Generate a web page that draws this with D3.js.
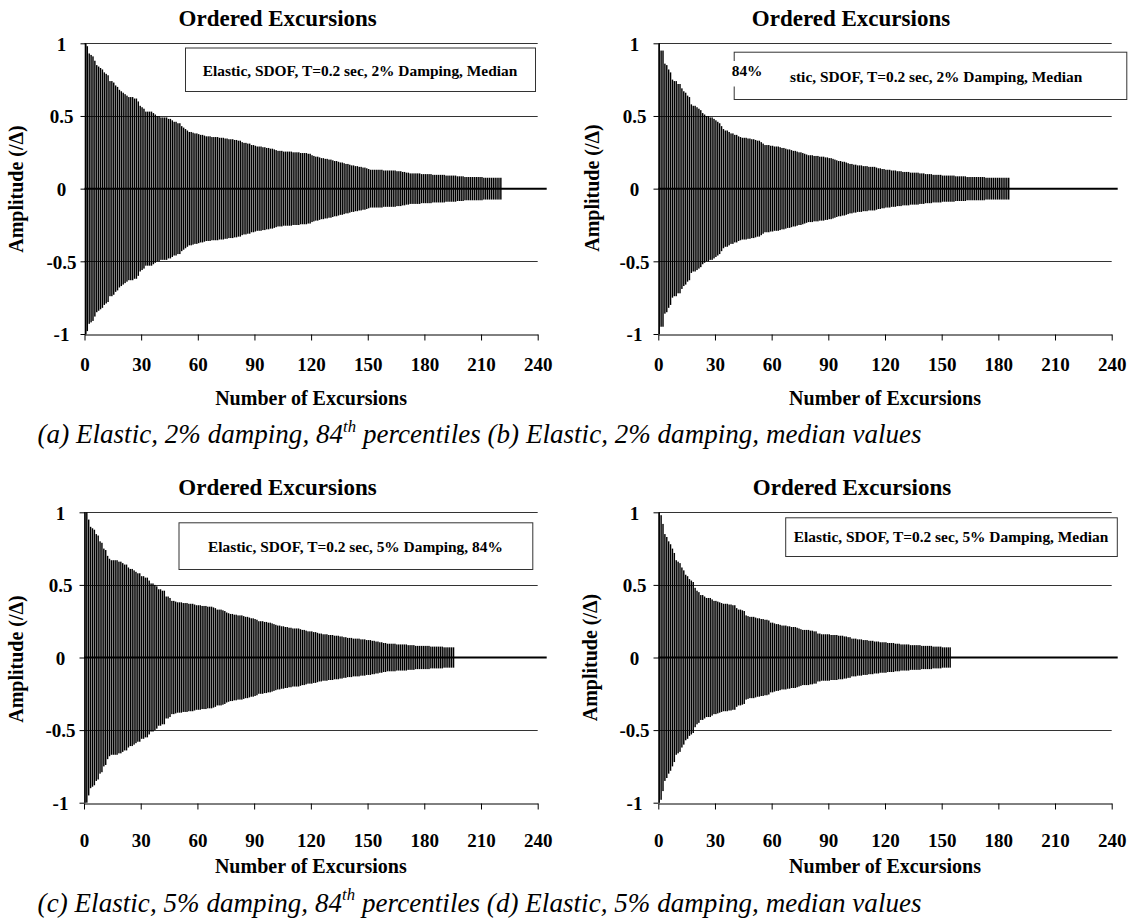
<!DOCTYPE html>
<html><head><meta charset="utf-8">
<script src="https://cdn.jsdelivr.net/npm/d3@7"></script>
<style>body{margin:0;background:#fff}svg{display:block}</style>
</head><body>
<svg id="c" width="1133" height="924"></svg>
<script>
// ---------- data ----------
const ampA = [
1.00,0.98,0.93,0.92,0.91,0.88,0.85,0.84,0.83,0.82,
0.80,0.79,0.78,0.74,0.74,0.73,0.71,0.70,0.68,0.67,
0.66,0.65,0.64,0.63,0.63,0.63,0.62,0.62,0.60,0.57,
0.56,0.55,0.53,0.53,0.53,0.53,0.52,0.51,0.50,0.50,
0.49,0.49,0.49,0.49,0.48,0.48,0.47,0.46,0.46,0.45,
0.45,0.43,0.42,0.41,0.40,0.39,0.39,0.385,0.38,0.38,
0.375,0.37,0.37,0.365,0.36,0.36,0.36,0.355,0.355,0.355,
0.355,0.35,0.35,0.35,0.345,0.345,0.34,0.34,0.34,0.335,
0.335,0.33,0.33,0.32,0.315,0.315,0.31,0.31,0.30,0.30,
0.295,0.29,0.29,0.29,0.285,0.285,0.28,0.28,0.275,0.275,
0.27,0.265,0.26,0.26,0.26,0.255,0.255,0.255,0.255,0.255,
0.25,0.25,0.25,0.25,0.245,0.245,0.245,0.245,0.24,0.24,
0.23,0.225,0.22,0.22,0.215,0.21,0.21,0.205,0.205,0.20,
0.20,0.195,0.19,0.19,0.185,0.18,0.18,0.175,0.17,0.17,
0.165,0.16,0.16,0.155,0.155,0.15,0.15,0.145,0.145,0.14,
0.135,0.13,0.13,0.13,0.13,0.13,0.13,0.13,0.125,0.125,
0.125,0.125,0.125,0.125,0.125,0.12,0.12,0.12,0.115,0.115,
0.11,0.11,0.105,0.105,0.105,0.105,0.105,0.105,0.10,0.10,
0.10,0.10,0.10,0.10,0.095,0.095,0.095,0.095,0.095,0.095,
0.095,0.09,0.09,0.09,0.09,0.09,0.09,0.085,0.085,0.085,
0.085,0.08,0.08,0.08,0.08,0.08,0.08,0.08,0.08,0.08,
0.08,0.075,0.075,0.075,0.075,0.075,0.075,0.075,0.075,0.075,
0.075];
const ampB = [
1.00,0.95,0.95,0.86,0.85,0.82,0.80,0.75,0.74,0.74,
0.72,0.72,0.69,0.67,0.66,0.64,0.63,0.58,0.57,0.57,
0.56,0.55,0.54,0.52,0.51,0.50,0.50,0.49,0.49,0.48,
0.47,0.46,0.45,0.43,0.41,0.40,0.40,0.39,0.38,0.38,
0.37,0.37,0.36,0.355,0.35,0.35,0.35,0.345,0.345,0.34,
0.34,0.335,0.33,0.33,0.32,0.31,0.30,0.30,0.30,0.295,
0.295,0.29,0.29,0.29,0.285,0.28,0.28,0.275,0.27,0.27,
0.265,0.26,0.26,0.255,0.25,0.25,0.245,0.24,0.235,0.23,
0.23,0.23,0.225,0.225,0.225,0.22,0.22,0.22,0.215,0.215,
0.21,0.21,0.205,0.20,0.195,0.19,0.19,0.185,0.185,0.18,
0.175,0.17,0.17,0.165,0.165,0.16,0.16,0.16,0.155,0.155,
0.155,0.15,0.15,0.15,0.15,0.145,0.14,0.14,0.135,0.135,
0.13,0.13,0.13,0.125,0.125,0.125,0.12,0.12,0.12,0.115,
0.115,0.115,0.115,0.11,0.11,0.11,0.11,0.11,0.105,0.105,
0.105,0.10,0.10,0.10,0.10,0.095,0.095,0.095,0.095,0.095,
0.09,0.09,0.09,0.09,0.09,0.09,0.09,0.085,0.085,0.085,
0.085,0.085,0.085,0.08,0.08,0.08,0.08,0.08,0.08,0.08,
0.08,0.08,0.08,0.075,0.075,0.075,0.075,0.075,0.075,0.075,
0.075,0.075,0.075,0.075,0.075,0.075];
const ampC = [
1.00,1.00,0.95,0.90,0.89,0.88,0.85,0.84,0.80,0.79,
0.75,0.74,0.70,0.68,0.67,0.67,0.67,0.67,0.66,0.66,
0.65,0.64,0.64,0.62,0.61,0.61,0.60,0.59,0.58,0.58,
0.56,0.56,0.55,0.55,0.53,0.51,0.51,0.50,0.49,0.47,
0.47,0.46,0.46,0.42,0.42,0.41,0.39,0.39,0.385,0.38,
0.38,0.38,0.375,0.375,0.375,0.37,0.37,0.37,0.365,0.36,
0.36,0.36,0.355,0.355,0.355,0.35,0.35,0.35,0.345,0.34,
0.33,0.33,0.33,0.325,0.32,0.31,0.305,0.30,0.30,0.295,
0.295,0.29,0.29,0.29,0.285,0.28,0.28,0.275,0.27,0.27,
0.265,0.26,0.25,0.25,0.25,0.245,0.245,0.24,0.24,0.235,
0.23,0.225,0.22,0.22,0.215,0.215,0.21,0.21,0.205,0.205,
0.20,0.20,0.20,0.20,0.195,0.19,0.19,0.185,0.18,0.18,
0.18,0.175,0.175,0.17,0.165,0.165,0.16,0.16,0.16,0.155,
0.155,0.155,0.15,0.15,0.15,0.145,0.145,0.14,0.14,0.135,
0.135,0.135,0.13,0.13,0.13,0.13,0.125,0.125,0.125,0.12,
0.12,0.12,0.115,0.115,0.11,0.11,0.105,0.105,0.10,0.10,
0.095,0.095,0.095,0.095,0.095,0.09,0.09,0.09,0.09,0.09,
0.09,0.085,0.085,0.085,0.085,0.08,0.08,0.08,0.08,0.08,
0.08,0.08,0.08,0.075,0.075,0.075,0.075,0.075,0.075,0.075,
0.07,0.07,0.07,0.07,0.07,0.07];
const ampD = [
1.00,0.98,0.92,0.85,0.83,0.80,0.78,0.75,0.72,0.67,
0.66,0.65,0.62,0.60,0.57,0.56,0.54,0.53,0.52,0.48,
0.46,0.45,0.43,0.43,0.42,0.41,0.41,0.41,0.40,0.39,
0.39,0.385,0.38,0.375,0.37,0.37,0.37,0.365,0.365,0.36,
0.36,0.34,0.33,0.33,0.325,0.32,0.29,0.285,0.28,0.28,
0.28,0.275,0.27,0.27,0.265,0.265,0.26,0.26,0.255,0.24,
0.24,0.235,0.23,0.23,0.225,0.22,0.22,0.22,0.215,0.215,
0.21,0.21,0.21,0.205,0.20,0.195,0.19,0.19,0.19,0.19,
0.185,0.185,0.18,0.18,0.165,0.165,0.16,0.16,0.16,0.16,
0.16,0.155,0.155,0.155,0.155,0.15,0.15,0.15,0.145,0.145,
0.14,0.14,0.13,0.13,0.13,0.125,0.125,0.125,0.12,0.12,
0.12,0.115,0.115,0.115,0.11,0.11,0.11,0.105,0.105,0.105,
0.105,0.10,0.10,0.10,0.10,0.095,0.095,0.095,0.09,0.09,
0.09,0.09,0.09,0.085,0.085,0.085,0.085,0.085,0.085,0.08,
0.08,0.08,0.08,0.08,0.08,0.075,0.075,0.075,0.075,0.075,
0.07,0.07,0.07,0.07,0.07];

const xTicks = [0, 30, 60, 90, 120, 150, 180, 210, 240];
const yTicks = [-1, -0.5, 0, 0.5, 1];
const yTickLabels = ["-1", "-0.5", "0", "0.5", "1"];
const gridValues = [1, 0.5, -0.5];
const chartTitle = "Ordered Excursions";
const xAxisTitle = "Number of Excursions";
const yAxisTitle = "Amplitude (/\u0394)";
const legendTexts = [
  "Elastic, SDOF, T=0.2 sec, 2% Damping, Median",
  "Elastic, SDOF, T=0.2 sec, 2% Damping, Median",
  "Elastic, SDOF, T=0.2 sec, 5% Damping, 84%",
  "Elastic, SDOF, T=0.2 sec, 5% Damping, Median"
];
const overlayLabel = "84%";
const captionParts = [
  ["(a) Elastic, 2% damping, 84", "th", " percentiles (b) Elastic, 2% damping, median values"],
  ["(c) Elastic, 5% damping, 84", "th", " percentiles (d) Elastic, 5% damping, median values"]
];
const seriesList = [ampA, ampB, ampC, ampD];

// ---------- layout ----------
const FONT = "'Liberation Serif','Times New Roman',Times,serif";
const LEGEND_SIZE = 15.4;
const layout = [
  {x0:84.5, x1:537.7, yTop:43.3, yBot:334, titleX:277.7, titleBase:25.5, tickBase:371, xTitleBase:404.5, yTitleX:23, yTitleY:189, box:[185,47.5,535,91], legendX:360, legendBase:75.5, zeroExt:9},
  {x0:658.3, x1:1111.7, yTop:43.3, yBot:334, titleX:851, titleBase:25.5, tickBase:371, xTitleBase:404.5, yTitleX:598.5, yTitleY:188, box:[733.7,51.7,1126.3,99], legendX:925, legendBase:81.5, zeroExt:6,
   cover:[727,61,25.5], coverTextX:731.7, coverTextBase:75.5, coverUntilChar:3},
  {x0:84, x1:537.7, yTop:512.3, yBot:802.7, titleX:277.5, titleBase:494.5, tickBase:846.5, xTitleBase:873, yTitleX:23, yTitleY:659, box:[178.5,522.3,532.3,569], legendX:355.4, legendBase:552, zeroExt:9},
  {x0:658.3, x1:1111.7, yTop:512.3, yBot:802.7, titleX:852, titleBase:494.5, tickBase:846.5, xTitleBase:873, yTitleX:597, yTitleY:657.5, box:[785.2,517.3,1116.8,556], legendX:951, legendBase:542, zeroExt:6}
];
const captionLayout = {x:37.6, width:884, base:[443, 911.5], size:27};

const svg = d3.select("#c");
svg.append("rect").attr("width",1133).attr("height",924).attr("fill","#fff");

seriesList.forEach((data, k) => {
  const L = layout[k];
  const g = svg.append("g");
  const x = d3.scaleLinear().domain([0,240]).range([L.x0, L.x1]);
  const y = d3.scaleLinear().domain([-1,1]).range([L.yBot, L.yTop]);
  const step = x(1) - x(0);

  // gridlines
  g.selectAll("line.grid").data(gridValues).join("line")
    .attr("x1", L.x0).attr("x2", L.x1)
    .attr("y1", d => Math.round(y(d)) + 0.5).attr("y2", d => Math.round(y(d)) + 0.5)
    .attr("stroke", "#333").attr("stroke-width", 1);

  // bars (symmetric excursions)
  g.selectAll("rect.bar").data(data).join("rect")
    .attr("x", (d, i) => x(i) + 0.2)
    .attr("width", step - 0.45)
    .attr("y", d => y(d))
    .attr("height", d => y(-d) - y(d))
    .attr("fill", "#000");

  // zero line
  g.append("line").attr("x1", L.x0).attr("x2", L.x1 + L.zeroExt)
    .attr("y1", y(0)).attr("y2", y(0)).attr("stroke", "#000").attr("stroke-width", 2);

  // x axis
  const xa = g.append("g").attr("transform", `translate(0,${Math.round(L.yBot)+0.5})`)
    .call(d3.axisBottom(x).tickValues(xTicks).tickSize(6).tickSizeOuter(0).tickFormat(d3.format("d")));
  xa.select(".domain").attr("stroke", "#000");
  xa.selectAll(".tick line").attr("stroke", "#000");
  xa.selectAll(".tick text").attr("dy", null).attr("y", L.tickBase - Math.round(L.yBot) - 0.5)
    .attr("font-family", FONT).attr("font-weight", "bold").attr("font-size", 19).attr("fill", "#000");

  // y axis
  const ya = g.append("g").attr("transform", `translate(${Math.round(L.x0)+0.5},0)`)
    .call(d3.axisLeft(y).tickValues(yTicks).tickSize(5).tickSizeOuter(0)
      .tickFormat(d => yTickLabels[yTicks.indexOf(d)]));
  ya.select(".domain").attr("stroke", "#000");
  ya.selectAll(".tick line").attr("stroke", "#000");
  ya.selectAll(".tick text").attr("x", -24).attr("text-anchor", "middle").attr("dy", "0.36em")
    .attr("font-family", FONT).attr("font-weight", "bold").attr("font-size", 19).attr("fill", "#000");

  // titles
  g.append("text").attr("x", L.titleX).attr("y", L.titleBase).attr("text-anchor", "middle")
    .attr("font-family", FONT).attr("font-weight", "bold").attr("font-size", 23).text(chartTitle);
  g.append("text").attr("x", (L.x0 + L.x1) / 2).attr("y", L.xTitleBase).attr("text-anchor", "middle")
    .attr("font-family", FONT).attr("font-weight", "bold").attr("font-size", 20).text(xAxisTitle);
  g.append("text").attr("transform", `translate(${L.yTitleX},${L.yTitleY}) rotate(-90)`).attr("text-anchor", "middle")
    .attr("font-family", FONT).attr("font-weight", "bold").attr("font-size", 20).text(yAxisTitle);

  // legend box
  const b = L.box;
  g.append("rect").attr("x", b[0] + 0.5).attr("y", b[1] + 0.5).attr("width", b[2] - b[0]).attr("height", b[3] - b[1])
    .attr("fill", "#fff").attr("stroke", "#333").attr("stroke-width", 1);
  const lt = g.append("text").attr("x", L.legendX).attr("y", L.legendBase).attr("text-anchor", "middle")
    .attr("font-family", FONT).attr("font-weight", "bold").attr("font-size", LEGEND_SIZE).text(legendTexts[k]);

  if (L.cover) {
    const c = L.cover;
    const right = lt.node().getStartPositionOfChar(L.coverUntilChar).x - 0.3;
    g.append("rect").attr("x", c[0]).attr("y", c[1]).attr("width", right - c[0]).attr("height", c[2]).attr("fill", "#fff");
    g.append("text").attr("x", L.coverTextX).attr("y", L.coverTextBase)
      .attr("font-family", FONT).attr("font-weight", "bold").attr("font-size", LEGEND_SIZE).text(overlayLabel);
  }
});

// captions
captionParts.forEach((parts, k) => {
  const t = svg.append("text").attr("x", captionLayout.x).attr("y", captionLayout.base[k])
    .attr("font-family", FONT).attr("font-style", "italic").attr("font-size", captionLayout.size).attr("fill", "#000");
  t.append("tspan").text(parts[0]);
  t.append("tspan").attr("font-size", captionLayout.size * 0.62).attr("dy", -captionLayout.size * 0.42).text(parts[1]);
  t.append("tspan").attr("dy", captionLayout.size * 0.42).text(parts[2]);
  const len = t.node().getComputedTextLength();
  const n = (parts[0] + parts[1] + parts[2]).length;
  t.attr("letter-spacing", ((captionLayout.width - len) / n).toFixed(3) + "px");
});
</script>
</body></html>
